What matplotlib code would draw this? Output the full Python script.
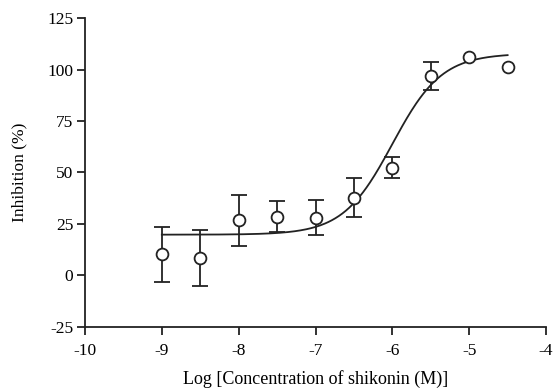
import numpy as np
import matplotlib
matplotlib.use("Agg")
import matplotlib.pyplot as plt

# data
log_conc = [-9, -8.5, -8, -7.5, -7, -6.5, -6, -5.5, -5, -4.5]
inhibition = [10.2, 8.5, 26.8, 28.5, 28.0, 37.8, 52.3, 96.9, 106.0, 101.0]
sem = [13.5, 13.7, 12.4, 7.5, 8.5, 9.6, 5.0, 6.7, 0, 0]

# four-parameter logistic fit (values estimated from the curve)
fit_bottom = 19.8
fit_top = 107.8
fit_logec50 = -6.0
fit_hill = 1.35

plt.rcParams.update({
    "font.family": "Liberation Serif",
    "font.size": 12.5,
    "axes.unicode_minus": False,
})

fig = plt.figure(figsize=(5.54, 3.92), dpi=100)
ax = fig.add_axes([0.1534, 0.166, 0.8322, 0.788])

xs = np.linspace(min(log_conc), max(log_conc), 300)
ys = fit_bottom + (fit_top - fit_bottom) / (1 + 10 ** ((fit_logec50 - xs) * fit_hill))
ax.plot(xs, ys, color="#222222", lw=1.3, zorder=2)

err = np.array(sem, dtype=float)
mask = err > 0
x = np.array(log_conc)
y = np.array(inhibition)
ax.errorbar(x[mask], y[mask], yerr=err[mask], fmt="none", ecolor="#222222",
            elinewidth=1.3, capsize=5.8, capthick=1.3, zorder=3)
ax.plot(x, y, "o", ms=8.5, mfc="white", mec="#222222", mew=1.3, zorder=4)

ax.set_xlim(-10, -4)
ax.set_ylim(-25, 125)
ax.set_xticks([-10, -9, -8, -7, -6, -5, -4])
ax.set_yticks([-25, 0, 25, 50, 75, 100, 125])
for s in ("top", "right"):
    ax.spines[s].set_visible(False)
for s in ("left", "bottom"):
    ax.spines[s].set_linewidth(1.3)
    ax.spines[s].set_color("#222222")
ax.tick_params(direction="out", length=5.5, width=1.3, color="#222222")
ax.tick_params(axis="x", pad=6)
ax.tick_params(axis="y", pad=3)

ax.set_xlabel("Log [Concentration of shikonin (M)]", fontsize=13, labelpad=8)
ax.set_ylabel("Inhibition (%)", labelpad=14)

fig.savefig("out.png", dpi=100)
